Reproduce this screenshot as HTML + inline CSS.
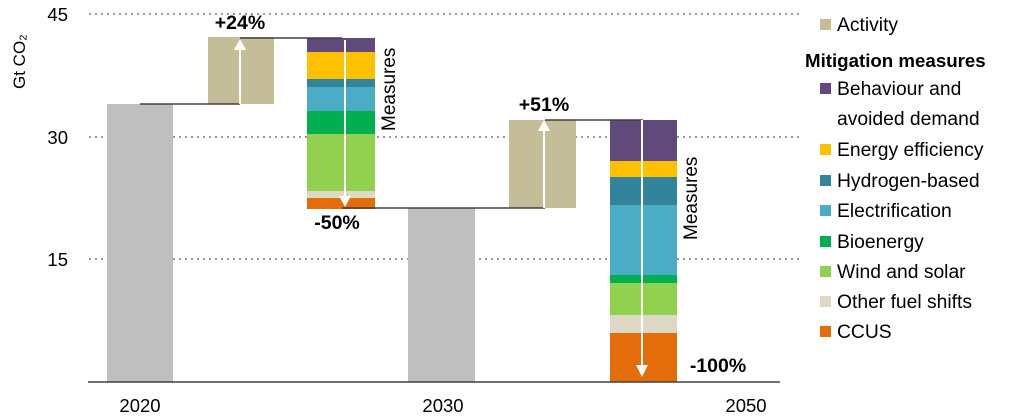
<!DOCTYPE html>
<html><head><meta charset="utf-8"><style>
body{margin:0;background:#fff;}
svg{display:block;font-family:"Liberation Sans",sans-serif;}
</style></head><body>
<svg width="1027" height="420" viewBox="0 0 1027 420">
<g stroke="#999" stroke-width="2" stroke-dasharray="2,4">
<line x1="89" y1="14" x2="800" y2="14"/>
<line x1="89" y1="137" x2="800" y2="137"/>
<line x1="89" y1="259" x2="800" y2="259"/>
</g>
<g font-size="18.5" fill="#000">
<text x="68" y="21" text-anchor="end">45</text>
<text x="68" y="144" text-anchor="end">30</text>
<text x="68" y="266" text-anchor="end">15</text>
<text transform="translate(25,89) rotate(-90)" font-size="17">Gt CO₂</text>
</g>
<rect x="107" y="104" width="66" height="278" fill="#bfbfbf"/>
<rect x="208" y="37" width="66" height="67" fill="#c4bd97"/>
<g>
<rect x="307" y="38" width="68" height="14" fill="#604a7b"/>
<rect x="307" y="52" width="68" height="27" fill="#ffc000"/>
<rect x="307" y="79" width="68" height="8" fill="#31849b"/>
<rect x="307" y="87" width="68" height="24" fill="#4bacc6"/>
<rect x="307" y="111" width="68" height="23" fill="#00b050"/>
<rect x="307" y="134" width="68" height="57" fill="#92d050"/>
<rect x="307" y="191" width="68" height="7" fill="#ddd9c4"/>
<rect x="307" y="198" width="68" height="11" fill="#e46c0a"/>
</g>
<rect x="408" y="208" width="67" height="174" fill="#bfbfbf"/>
<rect x="509" y="120" width="67" height="88" fill="#c4bd97"/>
<g>
<rect x="610" y="120" width="67" height="41" fill="#604a7b"/>
<rect x="610" y="161" width="67" height="16" fill="#ffc000"/>
<rect x="610" y="177" width="67" height="28" fill="#31849b"/>
<rect x="610" y="205" width="67" height="70" fill="#4bacc6"/>
<rect x="610" y="275" width="67" height="8" fill="#00b050"/>
<rect x="610" y="283" width="67" height="32" fill="#92d050"/>
<rect x="610" y="315" width="67" height="18" fill="#ddd9c4"/>
<rect x="610" y="333" width="67" height="49" fill="#e46c0a"/>
</g>
<g stroke="#404040" stroke-width="1.5">
<line x1="140" y1="104" x2="240" y2="104"/>
<line x1="240" y1="38" x2="342" y2="38"/>
<line x1="342" y1="208" x2="545" y2="208"/>
<line x1="545" y1="120" x2="643" y2="120"/>
<line x1="88" y1="382" x2="780" y2="382"/>
</g>
<g stroke="#fff" stroke-width="2" fill="#fff">
<line x1="240" y1="104" x2="240" y2="48"/><polygon points="234,50 246,50 240,39" stroke="none"/>
<line x1="345" y1="40" x2="345" y2="198"/><polygon points="339,196 351,196 345,207" stroke="none"/>
<line x1="544" y1="208" x2="544" y2="130"/><polygon points="538,131 550,131 544,120" stroke="none"/>
<line x1="642" y1="120" x2="642" y2="368"/><polygon points="636,365 648,365 642,377" stroke="none"/>
</g>
<g font-weight="bold" font-size="19.5" fill="#000">
<text x="240" y="29" text-anchor="middle">+24%</text>
<text x="337" y="229" text-anchor="middle">-50%</text>
<text x="544" y="111" text-anchor="middle">+51%</text>
<text x="718" y="372" text-anchor="middle">-100%</text>
</g>
<g font-size="19" fill="#000">
<text transform="translate(395,131) rotate(-90)">Measures</text>
<text transform="translate(697,240) rotate(-90)">Measures</text>
<text x="140" y="412" text-anchor="middle" font-size="18.5">2020</text>
<text x="443" y="412" text-anchor="middle" font-size="18.5">2030</text>
<text x="746" y="412" text-anchor="middle" font-size="18.5">2050</text>
</g>
<g font-size="19.3" fill="#000">
<rect x="820" y="19" width="11" height="11" fill="#c4bd97"/><text x="837" y="31">Activity</text>
<text x="805" y="67" font-weight="bold" font-size="18.7">Mitigation measures</text>
<rect x="820" y="83" width="11" height="11" fill="#604a7b"/><text x="837" y="95">Behaviour and</text>
<text x="837" y="125">avoided demand</text>
<rect x="820" y="144" width="11" height="11" fill="#ffc000"/><text x="837" y="156">Energy efficiency</text>
<rect x="820" y="175" width="11" height="11" fill="#31849b"/><text x="837" y="187">Hydrogen-based</text>
<rect x="820" y="205" width="11" height="11" fill="#4bacc6"/><text x="837" y="217">Electrification</text>
<rect x="820" y="236" width="11" height="11" fill="#00b050"/><text x="837" y="248">Bioenergy</text>
<rect x="820" y="266" width="11" height="11" fill="#92d050"/><text x="837" y="278">Wind and solar</text>
<rect x="820" y="296" width="11" height="11" fill="#ddd9c4"/><text x="837" y="308">Other fuel shifts</text>
<rect x="820" y="326" width="11" height="11" fill="#e46c0a"/><text x="837" y="338">CCUS</text>
</g>
</svg>
</body></html>
